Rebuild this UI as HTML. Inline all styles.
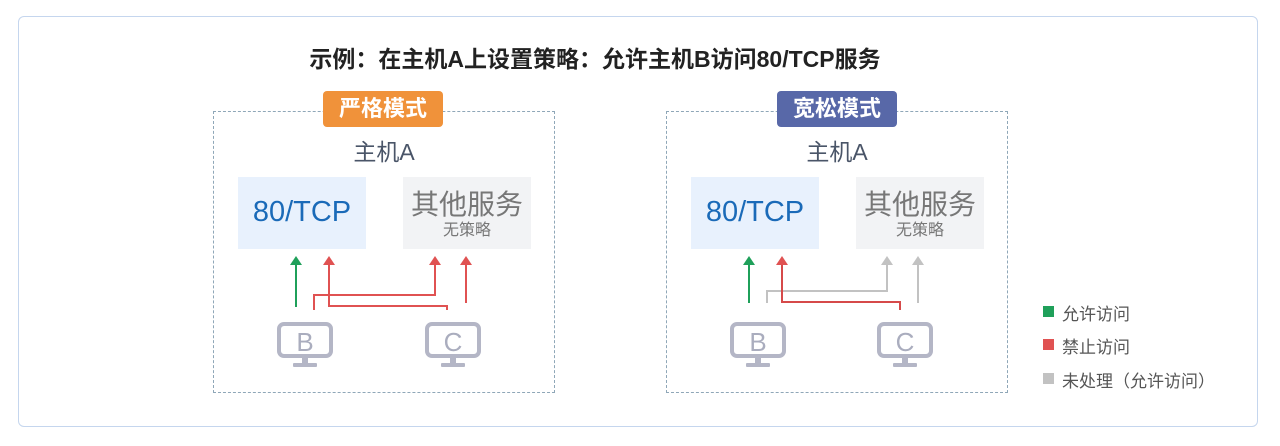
<!DOCTYPE html>
<html><head><meta charset="utf-8"><style>
body{margin:0;width:1280px;height:446px;background:#fff;font-family:"Liberation Sans","Noto Sans CJK SC",sans-serif;position:relative;overflow:hidden}
.a{position:absolute}
.frame{left:18px;top:16px;width:1238px;height:409px;border:1.5px solid #c5d6ee;border-radius:6px}
.title{left:0;width:1190px;top:40px;text-align:center;font-size:23px;font-weight:bold;color:#222}
.box{width:340px;height:280px;border:1px dashed #8fa7b8}
.badge{width:120px;height:36px;border-radius:4px;color:#fff;font-size:22px;font-weight:bold;text-align:center;line-height:36px}
.host{font-size:23px;color:#4a5568;width:120px;text-align:center}
.svc{width:128px;height:72px;text-align:center}
.leg{font-size:17px;color:#555}
.sq{width:11px;height:11px}
</style></head><body>
<div class="a frame"></div>
<div class="a title">示例：在主机A上设置策略：允许主机B访问80/TCP服务</div>

<div class="a box" style="left:213px;top:111px"></div>
<div class="a badge" style="left:323px;top:91px;background:#f0923a">严格模式</div>
<div class="a host" style="left:324px;top:133px">主机A</div>
<div class="a svc" style="left:238px;top:177px;background:#e8f1fd;color:#1a6ab8;font-size:29px;line-height:70px">80/TCP</div>
<div class="a svc" style="left:403px;top:177px;background:#f2f3f5;color:#777"><div style="font-size:28px;margin-top:11px;line-height:33px">其他服务</div><div style="font-size:16px;line-height:20px">无策略</div></div>

<div class="a box" style="left:666px;top:111px"></div>
<div class="a badge" style="left:777px;top:91px;background:#5868a8">宽松模式</div>
<div class="a host" style="left:777px;top:133px">主机A</div>
<div class="a svc" style="left:691px;top:177px;background:#e8f1fd;color:#1a6ab8;font-size:29px;line-height:70px">80/TCP</div>
<div class="a svc" style="left:856px;top:177px;background:#f2f3f5;color:#777"><div style="font-size:28px;margin-top:11px;line-height:33px">其他服务</div><div style="font-size:16px;line-height:20px">无策略</div></div>

<svg class="a" style="left:0;top:0" width="1280" height="446">
<defs>
<g id="mon"><rect x="2" y="2" width="52" height="32" rx="5" fill="none" stroke="#b4b6c6" stroke-width="4"/><rect x="25" y="35" width="6" height="7" fill="#b4b6c6"/><rect x="16" y="41" width="24" height="4" rx="1" fill="#b4b6c6"/></g>
</defs>
<g stroke-width="2" fill="none">
<path d="M296 307V262" stroke="#1fa05a"/><path d="M314 310V295H435V262" stroke="#e05252"/><path d="M447 310V306H329V262" stroke="#e05252"/><path d="M466 303V262" stroke="#e05252"/>
<path d="M749 303V262" stroke="#1fa05a"/><path d="M767 303V291H887V262" stroke="#c2c2c2"/><path d="M900 310V302H782V262" stroke="#d64a4a"/><path d="M918 303V262" stroke="#c2c2c2"/>
</g>
<g>
<path d="M290 265L296 256L302 265Z" fill="#1fa05a"/><path d="M323 265L329 256L335 265Z" fill="#e05252"/><path d="M429 265L435 256L441 265Z" fill="#e05252"/><path d="M460 265L466 256L472 265Z" fill="#e05252"/>
<path d="M743 265L749 256L755 265Z" fill="#1fa05a"/><path d="M776 265L782 256L788 265Z" fill="#e05252"/><path d="M881 265L887 256L893 265Z" fill="#c2c2c2"/><path d="M912 265L918 256L924 265Z" fill="#c2c2c2"/>
</g>
<use href="#mon" x="277" y="322"/><use href="#mon" x="425" y="322"/>
<use href="#mon" x="730" y="322"/><use href="#mon" x="877" y="322"/>
<g font-size="26" fill="#aaadbe" text-anchor="middle" font-family="Liberation Sans, sans-serif">
<text x="305" y="351">B</text><text x="453" y="351">C</text><text x="758" y="351">B</text><text x="905" y="351">C</text>
</g>
</svg>

<div class="a sq" style="left:1043px;top:306px;background:#1fa05a"></div><div class="a leg" style="left:1062px;top:300px">允许访问</div>
<div class="a sq" style="left:1043px;top:339px;background:#e05252"></div><div class="a leg" style="left:1062px;top:333px">禁止访问</div>
<div class="a sq" style="left:1043px;top:373px;background:#c2c2c2"></div><div class="a leg" style="left:1062px;top:367px">未处理（允许访问）</div>
</body></html>
